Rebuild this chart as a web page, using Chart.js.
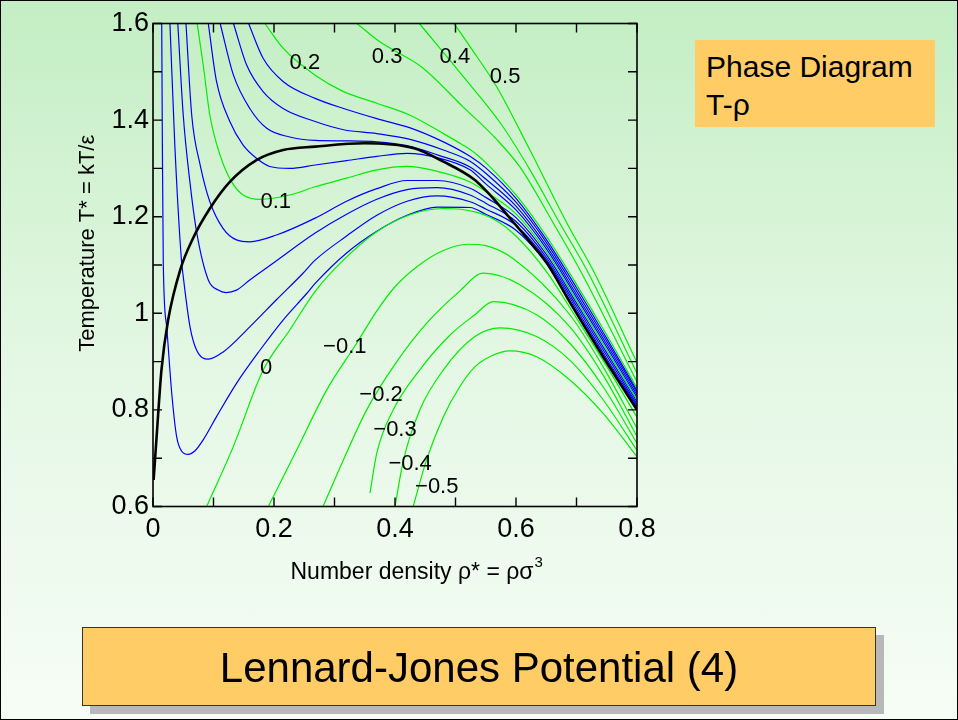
<!DOCTYPE html>
<html><head><meta charset="utf-8">
<script src="https://cdn.jsdelivr.net/npm/chart.js@4.4.1/dist/chart.umd.min.js"></script>
<style>
html,body{margin:0;padding:0;width:958px;height:720px;overflow:hidden;}
body{background:linear-gradient(to bottom,#c3eec3 0%,#e4f7e4 50%,#f6fdf6 100%);font-family:"Liberation Sans",Arial,sans-serif;position:relative;}
#frame{position:absolute;left:0;top:0;width:956px;height:718px;border:1px solid #000;}
#chart{position:absolute;left:0;top:0;}
#phase{position:absolute;left:695px;top:40px;width:240px;height:87px;background:#ffcc66;box-sizing:border-box;padding:8px 0 0 11px;font-size:30px;line-height:38px;color:#000;}
#title{position:absolute;left:82px;top:627px;width:794px;height:79px;background:#ffcc66;border:1px solid #333;box-sizing:border-box;box-shadow:8px 8px 0 #b8b8b8;font-size:42px;line-height:80px;text-align:center;color:#000;}
</style></head>
<body>
<div id="frame"></div>
<canvas id="chart" width="958" height="720"></canvas>
<div id="phase">Phase Diagram<br>T-ρ</div>
<div id="title">Lennard-Jones Potential (4)</div>
<script>
// axis ticks
const xTicks = [0, 0.2, 0.4, 0.6, 0.8];
const yTicks = [0.6, 0.8, 1, 1.2, 1.4, 1.6];
const xMinor = [0.1, 0.3, 0.5, 0.7];
const yMinor = [0.7, 0.9, 1.1, 1.3, 1.5];

// coexistence curve (binodal) [rho*, T*]
const binodal = [[0.001,0.655],[0.006,0.745],[0.014,0.883],[0.025,0.986],[0.045,1.09],[0.066,1.155],[0.094,1.217],[0.127,1.272],[0.171,1.317],[0.215,1.338],[0.268,1.345],[0.349,1.352],[0.43,1.342],[0.48,1.314],[0.532,1.276],[0.557,1.245],[0.590,1.197],[0.623,1.148],[0.651,1.104],[0.690,1.021],[0.744,0.910],[0.8,0.80]];

// isobars (green, labelled)
const P050 = [[0.4975,1.6],[0.524,1.552],[0.568,1.469],[0.623,1.338],[0.684,1.187],[0.727,1.090],[0.8,0.898]];
const P040 = [[0.4402,1.6],[0.5129,1.49],[0.5736,1.395],[0.6231,1.297],[0.6727,1.186],[0.7168,1.09],[0.8,0.876]];
const P030 = [[0.337,1.6],[0.375,1.562],[0.446,1.508],[0.512,1.428],[0.568,1.36],[0.607,1.302],[0.662,1.186],[0.706,1.089],[0.8,0.858]];
const P020 = [[0.185,1.6],[0.215,1.549],[0.268,1.493],[0.315,1.459],[0.37,1.435],[0.425,1.41],[0.48,1.372],[0.51,1.35],[0.532,1.332],[0.55,1.312],[0.6,1.245],[0.65,1.16],[0.7,1.06],[0.75,0.955],[0.8,0.845]];
const P010 = [[0.073,1.6],[0.083,1.514],[0.094,1.41],[0.1107,1.328],[0.130,1.272],[0.149,1.245],[0.177,1.236],[0.226,1.245],[0.268,1.262],[0.32,1.28],[0.37,1.297],[0.42,1.304],[0.47,1.294],[0.524,1.272],[0.55,1.252],[0.6,1.206],[0.65,1.128],[0.7,1.027],[0.75,0.924],[0.8,0.821]];
const P000 = [[0.0888,0.6],[0.1327,0.724],[0.1823,0.883],[0.2264,0.966],[0.2678,1.045],[0.3145,1.110],[0.3698,1.169],[0.4248,1.204],[0.4798,1.217],[0.5322,1.21],[0.57,1.19],[0.6,1.16],[0.65,1.087],[0.7,0.99],[0.75,0.89],[0.8,0.785]];
const Pm010 = [[0.1906,0.6],[0.2375,0.717],[0.287,0.841],[0.3367,0.938],[0.37,1.005],[0.40,1.055],[0.44,1.10],[0.48,1.13],[0.52,1.143],[0.55,1.14],[0.5955,1.113],[0.689,0.997],[0.744,0.889],[0.8,0.762]];
const Pm020 = [[0.281,0.6],[0.3145,0.696],[0.3532,0.8],[0.397,0.889],[0.452,0.979],[0.507,1.046],[0.546,1.083],[0.6066,1.059],[0.689,0.972],[0.744,0.872],[0.8,0.745]];
const Pm030 = [[0.3587,0.628],[0.3698,0.710],[0.397,0.8],[0.441,0.883],[0.491,0.955],[0.532,0.997],[0.5625,1.024],[0.634,0.997],[0.689,0.938],[0.744,0.848],[0.8,0.731]];
const Pm040 = [[0.4,0.6],[0.414,0.696],[0.441,0.8],[0.48,0.883],[0.532,0.952],[0.574,0.970],[0.634,0.952],[0.689,0.903],[0.744,0.821],[0.8,0.716]];
const Pm050 = [[0.43,0.6],[0.452,0.696],[0.48,0.786],[0.507,0.848],[0.532,0.889],[0.56,0.912],[0.59,0.922],[0.634,0.910],[0.689,0.862],[0.744,0.793],[0.8,0.703]];

// intermediate isobars (blue)
const P002 = [[0.0144,1.6],[0.0155,1.35],[0.017,1.104],[0.0226,0.972],[0.031,0.834],[0.039,0.745],[0.047,0.715],[0.058,0.708],[0.07,0.716],[0.083,0.738],[0.105,0.786],[0.138,0.855],[0.177,0.924],[0.215,0.986],[0.254,1.041],[0.268,1.062],[0.32,1.125],[0.37,1.17],[0.42,1.203],[0.47,1.22],[0.524,1.219],[0.55,1.205],[0.6,1.172],[0.65,1.104],[0.7,1.003],[0.75,0.901],[0.8,0.804]];
const P004 = [[0.028,1.6],[0.036,1.35],[0.047,1.11],[0.050,1.076],[0.0612,0.972],[0.072,0.924],[0.0914,0.905],[0.116,0.920],[0.160,0.972],[0.204,1.028],[0.248,1.083],[0.268,1.110],[0.32,1.16],[0.37,1.203],[0.42,1.232],[0.47,1.243],[0.524,1.231],[0.55,1.216],[0.6,1.182],[0.65,1.111],[0.7,1.009],[0.75,0.906],[0.8,0.808]];
const P006 = [[0.041,1.6],[0.050,1.41],[0.061,1.272],[0.072,1.169],[0.0914,1.069],[0.108,1.048],[0.1207,1.043],[0.138,1.048],[0.160,1.069],[0.199,1.104],[0.268,1.166],[0.32,1.205],[0.37,1.236],[0.42,1.256],[0.47,1.26],[0.524,1.245],[0.55,1.228],[0.6,1.19],[0.65,1.116],[0.7,1.015],[0.75,0.912],[0.8,0.812]];
const P008 = [[0.0545,1.6],[0.064,1.41],[0.078,1.307],[0.094,1.231],[0.1157,1.176],[0.138,1.152],[0.160,1.148],[0.204,1.162],[0.268,1.197],[0.32,1.232],[0.37,1.258],[0.42,1.275],[0.47,1.275],[0.524,1.259],[0.55,1.24],[0.6,1.198],[0.65,1.122],[0.7,1.021],[0.75,0.918],[0.8,0.817]];
const P012 = [[0.0914,1.6],[0.105,1.48],[0.127,1.397],[0.149,1.348],[0.171,1.321],[0.193,1.304],[0.226,1.30],[0.268,1.307],[0.32,1.316],[0.37,1.325],[0.42,1.331],[0.47,1.322],[0.524,1.297],[0.55,1.268],[0.6,1.214],[0.65,1.134],[0.7,1.033],[0.75,0.930],[0.8,0.826]];
const P014 = [[0.111,1.6],[0.133,1.493],[0.160,1.424],[0.188,1.383],[0.226,1.365],[0.268,1.358],[0.32,1.357],[0.37,1.355],[0.42,1.347],[0.47,1.328],[0.524,1.303],[0.55,1.278],[0.6,1.222],[0.65,1.140],[0.7,1.039],[0.75,0.936],[0.8,0.831]];
const P016 = [[0.133,1.6],[0.1548,1.514],[0.182,1.459],[0.215,1.424],[0.268,1.397],[0.315,1.380],[0.37,1.372],[0.425,1.36],[0.48,1.338],[0.524,1.315],[0.55,1.29],[0.6,1.23],[0.65,1.147],[0.7,1.046],[0.75,0.942],[0.8,0.836]];
const P018 = [[0.158,1.6],[0.182,1.528],[0.215,1.48],[0.268,1.445],[0.315,1.424],[0.37,1.403],[0.425,1.384],[0.48,1.355],[0.524,1.325],[0.55,1.301],[0.6,1.238],[0.65,1.153],[0.7,1.053],[0.75,0.948],[0.8,0.840]];

// contour labels: text, rho*, T*
const labelTexts = ['0.2','0.3','0.4','0.5','0.1','0','\u22120.1','\u22120.2','\u22120.3','\u22120.4','\u22120.5'];
const labelRho   = [0.251,0.387,0.499,0.582,0.203,0.187,0.317,0.377,0.40,0.425,0.469];
const labelT     = [1.518,1.531,1.531,1.489,1.230,0.887,0.930,0.831,0.758,0.688,0.640];

const GREEN = '#00ee00', BLUE = '#0000ff';
const toXY = arr => arr.map(p => ({x:p[0], y:p[1]}));
function ds(arr, color, w, order){
  return {data: toXY(arr), borderColor: color, borderWidth: w, pointRadius: 0, fill: false,
          cubicInterpolationMode: 'monotone', order: order};
}
const datasets = [
  ds(binodal,'#000000',2.6,0),
  ds(P002,BLUE,1.2,2), ds(P004,BLUE,1.2,2), ds(P006,BLUE,1.2,2), ds(P008,BLUE,1.2,2),
  ds(P012,BLUE,1.2,2), ds(P014,BLUE,1.2,2), ds(P016,BLUE,1.2,2), ds(P018,BLUE,1.2,2),
  ds(P010,GREEN,1.2,1), ds(P020,GREEN,1.2,1), ds(P030,GREEN,1.2,1), ds(P040,GREEN,1.2,1), ds(P050,GREEN,1.2,1),
  ds(P000,GREEN,1.2,1), ds(Pm010,GREEN,1.2,1), ds(Pm020,GREEN,1.2,1), ds(Pm030,GREEN,1.2,1), ds(Pm040,GREEN,1.2,1), ds(Pm050,GREEN,1.2,1)
];

const FONT = '"Liberation Sans", Arial, sans-serif';
const fmt = v => String(Math.round(v*10)/10);

const overlay = {
  id: 'overlay',
  afterDatasetsDraw(chart){
    const {ctx, chartArea:a, scales:{x, y}} = chart;
    ctx.save();
    // contour labels
    ctx.fillStyle = '#000';
    ctx.font = '22px ' + FONT;
    ctx.textAlign = 'center'; ctx.textBaseline = 'middle';
    labelTexts.forEach((t,i) => ctx.fillText(t, x.getPixelForValue(labelRho[i]), y.getPixelForValue(labelT[i])));
    // frame
    ctx.strokeStyle = '#000'; ctx.lineWidth = 1.6;
    ctx.strokeRect(a.left, a.top, a.right - a.left, a.bottom - a.top);
    // inward ticks on all four sides
    const L = 9;
    ctx.lineWidth = 1.4;
    ctx.beginPath();
    xTicks.concat(xMinor).forEach(v => {
      const px = x.getPixelForValue(v);
      ctx.moveTo(px, a.bottom); ctx.lineTo(px, a.bottom - L);
      ctx.moveTo(px, a.top); ctx.lineTo(px, a.top + L);
    });
    yTicks.concat(yMinor).forEach(v => {
      const py = y.getPixelForValue(v);
      ctx.moveTo(a.left, py); ctx.lineTo(a.left + L, py);
      ctx.moveTo(a.right, py); ctx.lineTo(a.right - L, py);
    });
    ctx.stroke();
    // axis titles
    ctx.font = '22px ' + FONT;
    ctx.textAlign = 'center'; ctx.textBaseline = 'middle';
    ctx.save();
    ctx.translate(a.left - 65, a.top + (a.bottom - a.top) * 0.455);
    ctx.rotate(-Math.PI/2);
    ctx.fillText('Temperature T* = kT/\u03b5', 0, 0);
    ctx.restore();
    const main = 'Number density \u03c1* = \u03c1\u03c3';
    ctx.font = '23px ' + FONT;
    ctx.textAlign = 'left'; ctx.textBaseline = 'alphabetic';
    const w = ctx.measureText(main).width;
    const cx = (a.left + a.right)/2 + 22;
    const bx = cx - w/2 - 5, by = a.bottom + 72;
    ctx.fillText(main, bx, by);
    ctx.font = '15px ' + FONT;
    ctx.fillText('3', bx + w + 1, by - 12);
    ctx.restore();
  }
};

new Chart(document.getElementById('chart').getContext('2d'), {
  type: 'line',
  data: {datasets},
  options: {
    responsive: false, animation: false, devicePixelRatio: 1,
    layout: {padding: {left: 93, top: 23.5, right: 321, bottom: 173.5}},
    plugins: {legend: {display: false}, tooltip: {enabled: false}},
    elements: {point: {radius: 0}},
    scales: {
      x: {type: 'linear', min: 0, max: 0.8,
          afterFit(s){ s.height = 40; },
          afterBuildTicks(s){ s.ticks = xTicks.map(v => ({value: v})); },
          grid: {display: false, drawTicks: false}, border: {display: false},
          ticks: {padding: 7, color: '#000', font: {size: 27, family: FONT}, callback: v => fmt(v), maxRotation: 0}},
      y: {type: 'linear', min: 0.6, max: 1.6,
          afterFit(s){ s.width = 60; },
          afterBuildTicks(s){ s.ticks = yTicks.map(v => ({value: v})); },
          grid: {display: false, drawTicks: false}, border: {display: false},
          ticks: {padding: 4, color: '#000', font: {size: 27, family: FONT}, callback: v => fmt(v)}}
    }
  },
  plugins: [overlay]
});
</script>
</body></html>
